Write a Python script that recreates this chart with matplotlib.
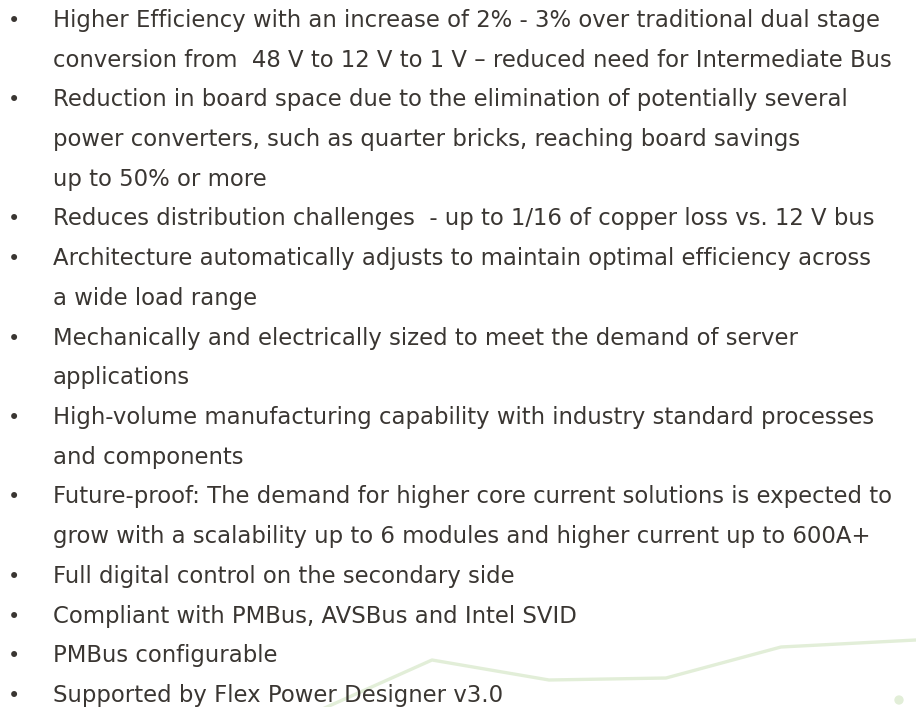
import matplotlib.pyplot as plt

# bullet texts (each bullet may wrap over several lines)
bullets = [
    ["Higher Efficiency with an increase of 2% - 3% over traditional dual stage",
     "conversion from  48 V to 12 V to 1 V \u2013 reduced need for Intermediate Bus"],
    ["Reduction in board space due to the elimination of potentially several",
     "power converters, such as quarter bricks, reaching board savings",
     "up to 50% or more"],
    ["Reduces distribution challenges  - up to 1/16 of copper loss vs. 12 V bus"],
    ["Architecture automatically adjusts to maintain optimal efficiency across",
     "a wide load range"],
    ["Mechanically and electrically sized to meet the demand of server",
     "applications"],
    ["High-volume manufacturing capability with industry standard processes",
     "and components"],
    ["Future-proof: The demand for higher core current solutions is expected to",
     "grow with a scalability up to 6 modules and higher current up to 600A+"],
    ["Full digital control on the secondary side"],
    ["Compliant with PMBus, AVSBus and Intel SVID"],
    ["PMBus configurable"],
    ["Supported by Flex Power Designer v3.0"],
]

# faint decorative green line in the background (pixel coords)
deco_x = [300, 432, 549, 666, 781, 916]
deco_y = [719, 660, 680, 678, 647, 640]
dot_x = [899]
dot_y = [700]

txt_color = "#3a3632"
green = "#e2eed8"

fig = plt.figure(figsize=(9.16, 7.07), dpi=100)
ax = fig.add_axes([0, 0, 1, 1])
ax.set_xlim(0, 916)
ax.set_ylim(707, 0)
ax.axis("off")

ax.plot(deco_x, deco_y, color=green, lw=2.4, zorder=1)
ax.scatter(dot_x, dot_y, s=45, color=green, edgecolors="none", zorder=1)

base = 27.0
pitch = 39.7
row = 0
for item in bullets:
    ax.text(14, base + pitch * row, "\u2022", fontsize=15, color=txt_color,
            ha="center", va="baseline", zorder=3)
    for line in item:
        ax.text(53, base + pitch * row, line, fontsize=16.4, color=txt_color,
                ha="left", va="baseline", family="DejaVu Sans", zorder=3)
        row += 1

fig.savefig("out.png", dpi=100)
